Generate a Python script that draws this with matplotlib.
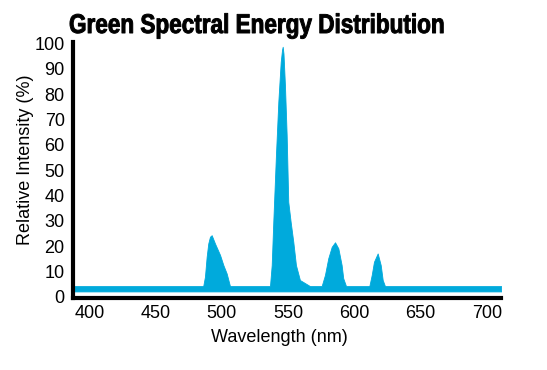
import matplotlib.pyplot as plt
import matplotlib.patheffects as pe
from matplotlib.transforms import Affine2D

# spectrum (nm, relative %)
wavelength = [388, 486.0, 487.3, 488.6, 489.8, 491.1, 492.4, 494.9, 498.7, 501.2, 503.7, 505.0, 506.2,
              536.4, 537.7, 538.9, 540.9, 542.7, 544.5, 545.5, 546.0, 546.6, 547.7, 549.0, 550.2,
              552.0, 554.0, 556.0, 559.0, 562.8, 566.6,
              575.4, 577.9, 580.4, 583.0, 585.5, 588.0, 590.5, 591.7, 593.8,
              611.4, 613.2, 614.9, 617.7, 620.0, 621.5, 623.2, 711]
intensity = [4.2, 4.2, 7.9, 15.8, 21.0, 23.7, 24.3, 21.0, 16.5, 12.5, 9.2, 6.6, 4.2,
             4.2, 12.5, 29.6, 55.9, 77.0, 92.7, 97.5, 98.7, 96.0, 83.5, 63.8, 37.5,
             29.6, 21.7, 12.5, 6.6, 5.4, 4.2,
             4.2, 8.6, 15.2, 19.7, 21.5, 19.1, 12.5, 7.3, 4.2,
             4.2, 8.6, 13.8, 17.1, 12.5, 6.6, 4.2, 4.2]
floor_level = 2.1

x_ticks = [400, 450, 500, 550, 600, 650, 700]
y_ticks = list(range(0, 101, 10))

blue = '#00AADC'


class Squeeze(pe.AbstractPathEffect):
    """Draw text narrower and heavier (condensed black look), still a text artist."""
    def __init__(self, sx, stroke=0.7):
        super().__init__()
        self.sx = sx
        self.stroke = stroke

    def draw_path(self, renderer, gc, tpath, affine, rgbFace=None):
        gc0 = renderer.new_gc()
        gc0.copy_properties(gc)
        gc0.set_linewidth(self.stroke)
        gc0.set_foreground(rgbFace)
        gc0.set_joinstyle('round')
        renderer.draw_path(gc0, tpath, Affine2D().scale(self.sx, 1) + affine, rgbFace)
        gc0.restore()


fig = plt.figure(figsize=(5.47, 3.7), dpi=100)
ax = fig.add_axes([73 / 547, 72 / 370, 428 / 547, 256.3 / 370])

ax.fill_between(wavelength, floor_level, intensity, color=blue, linewidth=0.6, edgecolor=blue)

ax.set_xlim(387.7, 710.8)
ax.set_ylim(-0.5, 100.7)
ax.set_xticks(x_ticks)
ax.set_yticks(y_ticks)

for side in ['top', 'right']:
    ax.spines[side].set_visible(False)
for side in ['left', 'bottom']:
    ax.spines[side].set_linewidth(3.0)
    ax.spines[side].set_color('black')

ax.tick_params(length=0, labelsize=13)
ax.tick_params(axis='x', pad=5)
ax.tick_params(axis='y', pad=6)
for lbl in ax.get_xticklabels() + ax.get_yticklabels():
    lbl.set_family('Liberation Sans')

fig.text(279 / 547, 1 - 337 / 370, 'Wavelength (nm)', ha='center', va='center',
         fontsize=13, family='Liberation Sans')
fig.text(26 / 547, 1 - 160 / 370, 'Relative Intensity (%)', ha='center', va='center',
         rotation=90, fontsize=13, family='Liberation Sans')
title = fig.text(69 / 547, 1 - 33 / 370, 'Green Spectral Energy Distribution', ha='left',
                 va='baseline', fontsize=19.5, fontweight='bold', family='Liberation Sans')

# squeeze the title to the narrow width of the original
fig.canvas.draw()
w = title.get_window_extent().width
title.set_path_effects([Squeeze(376 / w)])

fig.savefig('out.png', dpi=100)
